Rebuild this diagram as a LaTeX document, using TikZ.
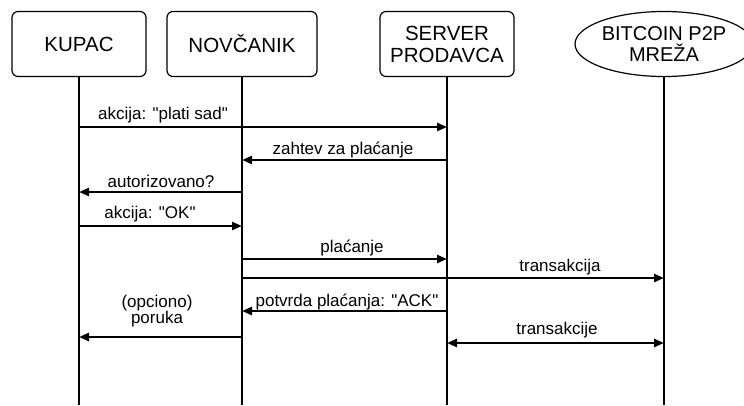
\documentclass[tikz,border=0pt]{standalone}
\usepackage{fontspec}
\setmainfont{Liberation Sans}[Ligatures=TeXOff]
\usetikzlibrary{arrows.meta,shapes.geometric}

\tikzset{
    actor/.style = {draw, rounded corners=6pt, line width=1.2pt,
        minimum width=134pt, minimum height=65pt, align=center,
        font=\fontsize{20.5}{22}\selectfont},
    p2pnet/.style = {draw, ellipse, line width=1.2pt, inner sep=0pt,
        minimum width=178pt, minimum height=65pt, align=center,
        font=\fontsize{20}{21}\selectfont},
    lifeline/.style = {line width=1.8pt},
    msg/.style = {line width=2.6pt, -{Triangle[length=10pt,width=8pt]}},
    bimsg/.style = {line width=2.6pt, {Triangle[length=10pt,width=8pt]}-{Triangle[length=10pt,width=8pt]}},
    lbl/.style = {align=center, inner sep=0pt, font=\fontsize{17}{16}\selectfont}
}

\begin{document}
\begin{tikzpicture}[x=1pt,y=-1pt]
    \useasboundingbox (0,0) rectangle (744,405);

    % participants
    \node [actor] (kupac) at (79,44) {KUPAC};
    \node [actor, minimum width=150pt] (novcanik) at (242,44) {NOVČANIK};
    \node [actor] (server) at (447,44) {SERVER\\PRODAVCA};
    \node [p2pnet] (mreza) at (664,44) {BITCOIN P2P\\MREŽA};

    % lifelines
    \coordinate (kupac-end) at (kupac |- 0,405);
    \coordinate (novcanik-end) at (novcanik |- 0,405);
    \coordinate (server-end) at (server |- 0,405);
    \coordinate (mreza-end) at (mreza |- 0,405);
    \draw [lifeline] (kupac) -- (kupac-end);
    \draw [lifeline] (novcanik) -- (novcanik-end);
    \draw [lifeline] (server) -- (server-end);
    \draw [lifeline] (mreza) -- (mreza-end);

    % message points
    \coordinate (k1) at (kupac |- 0,127);
    \coordinate (s1) at (server |- 0,127);
    \coordinate (s2) at (server |- 0,160);
    \coordinate (n2) at (novcanik |- 0,160);
    \coordinate (n3) at (novcanik |- 0,192);
    \coordinate (k3) at (kupac |- 0,192);
    \coordinate (k4) at (kupac |- 0,226);
    \coordinate (n4) at (novcanik |- 0,226);
    \coordinate (n5) at (novcanik |- 0,259);
    \coordinate (s5) at (server |- 0,259);
    \coordinate (n6) at (novcanik |- 0,278);
    \coordinate (m6) at (mreza |- 0,278);
    \coordinate (s7) at (server |- 0,311);
    \coordinate (n7) at (novcanik |- 0,311);
    \coordinate (n8) at (novcanik |- 0,337);
    \coordinate (k8) at (kupac |- 0,337);
    \coordinate (s9) at (server |- 0,343);
    \coordinate (m9) at (mreza |- 0,343);

    % messages
    \draw [msg] (k1) -- (s1);
    \draw [msg] (s2) -- (n2);
    \draw [msg] (n3) -- (k3);
    \draw [msg] (k4) -- (n4);
    \draw [msg] (n5) -- (s5);
    \draw [msg] (n6) -- (m6);
    \draw [msg] (s7) -- (n7);
    \draw [msg] (n8) -- (k8);
    \draw [bimsg] (s9) -- (m9);

    % labels
    \node [lbl] (l1) at (163,115) {akcija: "plati sad"};
    \node [lbl] (l2) at (343,150) {zahtev za plaćanje};
    \node [lbl] (l3) at (161,181) {autorizovano?};
    \node [lbl] (l4) at (150,214) {akcija: "OK"};
    \node [lbl] (l5) at (352,248) {plaćanje};
    \node [lbl] (l6) at (560,267) {transakcija};
    \node [lbl] (l7) at (347,302) {potvrda plaćanja: "ACK"};
    \node [lbl] (l8) at (157,311) {(opciono)\\poruka};
    \node [lbl] (l9) at (557,330) {transakcije};
\end{tikzpicture}
\end{document}
